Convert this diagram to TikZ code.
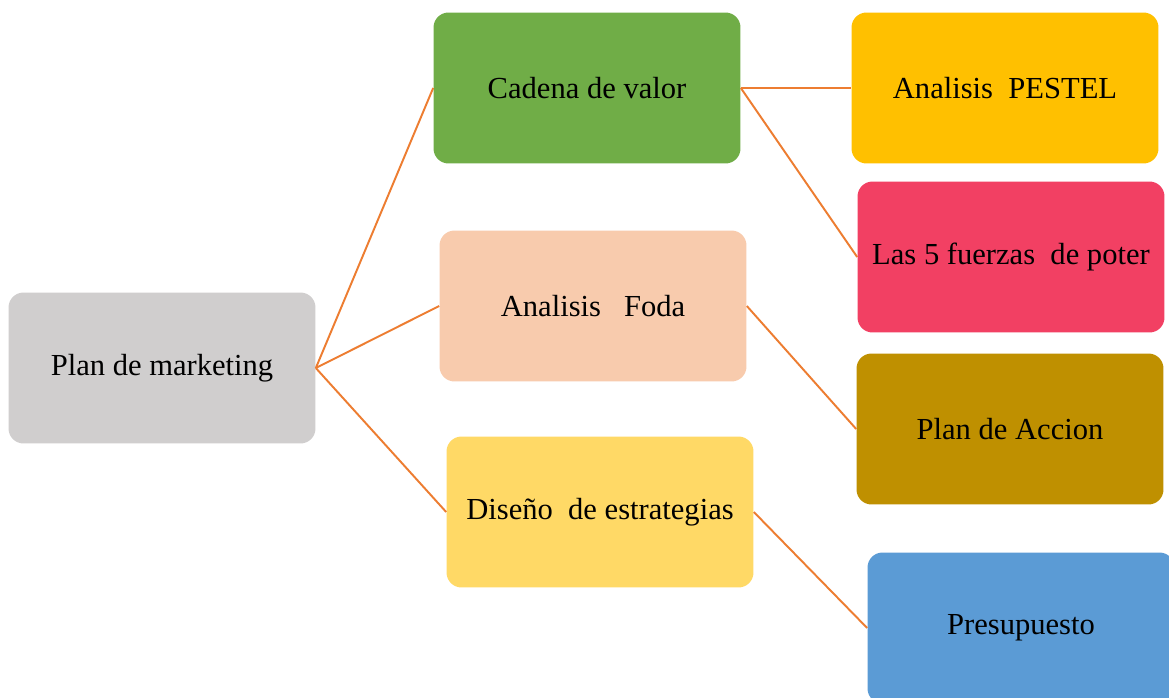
\documentclass[tikz,border=0pt]{standalone}
\usepackage{fontspec}
\setmainfont{Liberation Serif}
\usetikzlibrary{positioning}
\definecolor{grisplan}{HTML}{D0CECE}
\definecolor{verde}{HTML}{70AD47}
\definecolor{durazno}{HTML}{F8CBAD}
\definecolor{amarillo}{HTML}{FFD966}
\definecolor{oro}{HTML}{FFC000}
\definecolor{rojo}{HTML}{F24063}
\definecolor{ocre}{HTML}{BF9000}
\definecolor{azul}{HTML}{5B9BD5}
\definecolor{naranja}{HTML}{ED7D31}
\tikzset{caja/.style={rounded corners=0.3cm, minimum width=6.14cm, minimum height=3.02cm,
    inner sep=0pt, font=\fontsize{17.4}{20}\selectfont},
  rama/.style={draw=naranja, line width=1.1pt}}

\begin{document}
\begin{tikzpicture}[x=0.02cm,y=-0.02cm]
\useasboundingbox[fill=white] (0,0) rectangle (1169,697);
% primer nivel
\node[caja, fill=grisplan] (plan) at (162,368) {Plan de marketing};
\node[caja, fill=verde] (cadena) at (587,88) {Cadena de valor};
\node[caja, fill=durazno] (foda) at (593,306) {Analisis\ \ \ Foda};
\node[caja, fill=amarillo] (diseno) at (600,512) {Diseño\ \ de estrategias};
% segundo nivel
\node[caja, fill=oro] (pestel) at (1005,88) {Analisis\ \ PESTEL};
\node[caja, fill=rojo] (fuerzas) at (1011,257) {Las 5 fuerzas\ \ de poter};
\node[caja, fill=ocre] (accion) at (1010,429) {Plan de Accion};
\node[caja, fill=azul] (presupuesto) at (1021,628) {Presupuesto};
% ramas
\draw[rama] (plan.east) -- (cadena.west);
\draw[rama] (plan.east) -- (foda.west);
\draw[rama] (plan.east) -- (diseno.west);
\draw[rama] (cadena.east) -- (pestel.west);
\draw[rama] (cadena.east) -- (fuerzas.west);
\draw[rama] (foda.east) -- (accion.west);
\draw[rama] (diseno.east) -- (presupuesto.west);
\end{tikzpicture}
\end{document}
